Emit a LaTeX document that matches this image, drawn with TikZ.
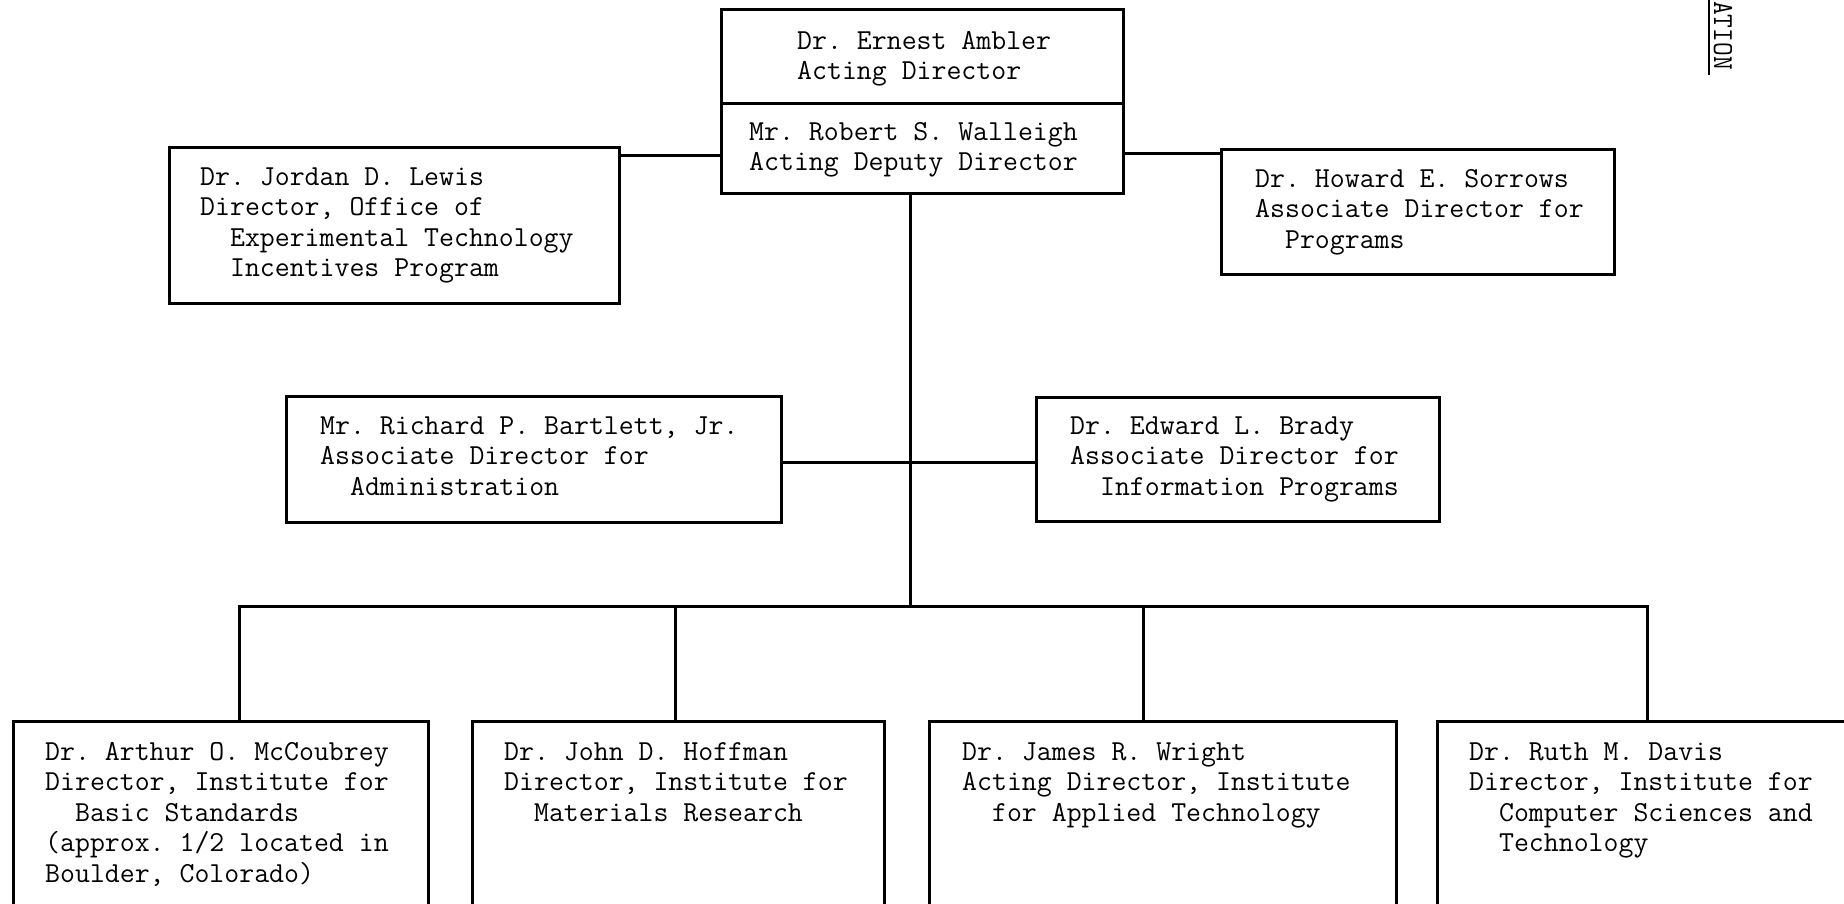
\documentclass[tikz,border=0pt]{standalone}
\newcommand\firstln{\rule{0pt}{20pt}}
\newcommand\ind{\phantom{xx}}
\begin{document}
\begin{tikzpicture}[x=1pt,y=-1pt,
  box/.style={draw, line width=2.8pt, inner sep=0pt, anchor=north west},
  txt/.style={inner sep=0pt, anchor=north west, align=left, yshift=20pt,
    font=\ttfamily\frenchspacing\fontsize{29}{30.5}\selectfont},
  link/.style={line width=3pt}]
\clip (0,0) rectangle (1844,903);
\fill[white] (0,0) rectangle (1844,903);

% director and deputy (one frame split in two)
\node[box, minimum width=402, minimum height=94] (amb) at (720,8) {};
\node[box, minimum width=402, minimum height=90] (wal) at (720,102) {};
\node[txt] (ambt) at (797,49) {\firstln Dr. Ernest Ambler\\Acting Director};
\node[txt] (walt) at (749,140) {\firstln Mr. Robert S. Walleigh\\Acting Deputy Director};

% staff offices beside the director
\node[box, minimum width=450, minimum height=156] (lew) at (168,146) {};
\node[txt] (lewt) at (200,185) {\firstln Dr. Jordan D. Lewis\\Director, Office of\\\ind Experimental Technology\\\ind Incentives Program};
\node[box, minimum width=393, minimum height=125] (sor) at (1220,148) {};
\node[txt] (sort) at (1255,187) {\firstln Dr. Howard E. Sorrows\\Associate Director for\\\ind Programs};

% associate directors
\node[box, minimum width=495, minimum height=126] (bar) at (285,395) {};
\node[txt] (bart) at (320,434) {\firstln Mr. Richard P. Bartlett, Jr.\\Associate Director for\\\ind Administration};
\node[box, minimum width=403, minimum height=124] (bra) at (1035,396) {};
\node[txt] (brat) at (1070,434) {\firstln Dr. Edward L. Brady\\Associate Director for\\\ind Information Programs};

% institutes
\node[box, minimum width=415, minimum height=300] (ins1) at (12,720) {};
\node[txt] (ins1t) at (45,760) {\firstln Dr. Arthur O. McCoubrey\\Director, Institute for\\\ind Basic Standards\\(approx. 1/2 located in\\Boulder, Colorado)};
\node[box, minimum width=412, minimum height=300] (ins2) at (471,720) {};
\node[txt] (ins2t) at (504,760) {\firstln Dr. John D. Hoffman\\Director, Institute for\\\ind Materials Research};
\node[box, minimum width=467, minimum height=300] (ins3) at (928,720) {};
\node[txt] (ins3t) at (962,760) {\firstln Dr. James R. Wright\\Acting Director, Institute\\\ind for Applied Technology};
\node[box, minimum width=500, minimum height=300] (ins4) at (1436,720) {};
\node[txt] (ins4t) at (1469,760) {\firstln Dr. Ruth M. Davis\\Director, Institute for\\\ind Computer Sciences and\\\ind Technology};

% connectors
\coordinate (jl) at (0,155);
\coordinate (jr) at (0,153);
\coordinate (jm) at (0,462);
\coordinate (spine) at (910,606);
\coordinate (busl) at (239,606);
\coordinate (busr) at (1647,606);
\coordinate (t2) at (675,606);
\coordinate (t3) at (1143,606);
\draw[link] (lew.east |- jl) -- (wal.west |- jl);
\draw[link] (wal.east |- jr) -- (sor.west |- jr);
\draw[link] (wal.south -| spine) -- (spine);
\draw[link] (bar.east |- jm) -- (bra.west |- jm);
\draw[link] (ins1.north -| busl) -- (busl) -- (busr) -- (ins4.north -| busr);
\draw[link] (t2) -- (ins2.north -| t2);
\draw[link] (t3) -- (ins3.north -| t3);

% rotated page heading at the top right
\node[rotate=-90, anchor=base west, inner sep=0pt,
  font=\ttfamily\fontsize{29}{29}\selectfont] (head) at (1714,1) {\scalebox{0.92}[1]{ATION}};
\draw[line width=2.5pt] (1709,0) -- (1709,75);
\end{tikzpicture}
\end{document}
